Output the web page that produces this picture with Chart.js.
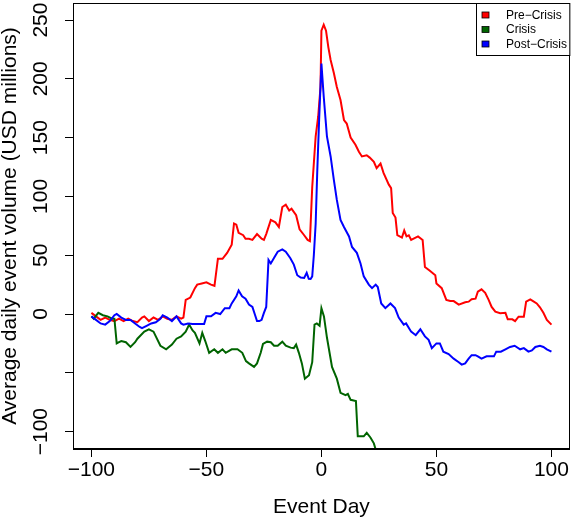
<!DOCTYPE html>
<html lang="en">
<head>
    <meta charset="UTF-8">
    <title>Average daily event volume</title>
    <script src="https://cdn.jsdelivr.net/npm/chart.js"></script>
    <style>
        body { margin: 0; background: #fff; }
    </style>
</head>
<body>
<canvas id="eventChart" width="572" height="519"></canvas>
<script>
    // series (event day, USD millions)
    const preDays = [-100,-98,-96,-94,-92,-90,-88,-86,-84,-82,-80,-78,-77,-75,-73,-71,-69,-67,-65,-63,-61,-60,-59,-57,-55,-54,-52,-50,-48,-46.5,-45,-43,-41,-39,-38,-37,-36,-34,-33,-31.5,-30,-28,-26,-25,-24,-22,-20,-18.5,-17,-15.5,-14,-13,-11,-9.5,-7.5,-6,-5,-4,-2.5,-1.4,-0.4,0,1,2,3,4,5.4,6.7,8.3,9.8,11,12.7,14.8,16.3,17.6,19.7,21,22.8,24,25.7,27,29.3,30.3,31,32.2,33,35,36,37,38,39,42,44,45,47,49.5,50,52.3,54.3,56,57.5,59.7,62.5,64,65.3,67,68,69.6,71.2,72.7,74,75.6,77.7,80,81,83,84.2,85.7,88,89,90.8,92,93.6,95,96.5,98,100];
    const preVals = [1,-2,-5,-3,-5,-6,-4,-6,-4,-6,-7,-3,-2,-6,-3,-5,-2,-4,-5,-2,-4,-3,12,14,22,25,26,27,25,24,47,47,52,59,77,76,69,67,64,64,63,68,64,63,68,80,78,74,91,93,88,89.5,84,72,67,63,62,108,151,168,193,241,246,241,227,216,205,193,182,165,162,150,144,138,134,135,133,129.5,124,128,120,110,107,86,82,67,65,71,66,67,63,66,63,40,37,33,26,22,12,11,11,8,10,10.5,12.5,13,19,21,18,12,6,2,0.6,1,-4.5,-4.5,-6,-2.3,-2.3,10.5,12.5,11,9,5.7,1,-5,-9];

    const crisisDays = [-100,-99,-97,-95,-93,-91,-90,-89,-88,-87,-85,-83,-81,-80,-77,-75,-73,-70,-67.5,-65,-63,-61,-59,-57.5,-56,-55,-53,-51.8,-50.5,-48.8,-46.6,-45,-43,-41.6,-39,-36.5,-34.4,-32.8,-31.5,-29.3,-28,-26.4,-25.4,-23.6,-22,-20.6,-19,-17,-15.5,-13.4,-12,-11,-9.8,-8.5,-7.2,-5.4,-4,-3,-2,-0.8,0,1.1,2.4,4.6,6.7,8.3,10.5,11.5,12.7,15,15.8,18.4,19.7,21.3,22.8,24];
    const crisisVals = [-2,-4,1,-1,-2,-4,-4,-25,-24,-23,-24,-28,-24,-21,-15,-13,-15,-27,-30,-26,-21,-19,-15,-9,-14,-16,-25,-16,-23,-33,-30,-33,-30,-33,-30,-30,-33,-40,-42,-45,-42,-33,-25.5,-23.5,-24,-27,-27,-23.5,-27,-28.6,-29,-26,-33,-42,-55,-52,-41,-9,-8,-10,5,-2,-20,-45,-55,-67,-69,-68,-73,-74,-104,-104,-101,-105,-110,-118];

    const postDays = [-100,-98,-96,-94,-92,-90,-89,-87,-85,-83,-81,-79,-78,-76,-74,-72,-70,-69,-67,-65,-63,-61,-60,-58,-56,-54,-51,-50,-48,-46,-44,-42,-40,-39,-37,-36,-34.5,-33,-31.5,-30,-29,-28,-27,-26,-25,-24,-23,-22,-20.5,-19,-17,-15.5,-13.5,-12,-10.5,-9,-7.5,-6.4,-5.5,-4.7,-4,-3.3,-2.5,-1.8,-1,0,1,2.4,4,5.4,6.7,8.3,9.8,12,13.3,15.4,17,18.4,20.6,22,23.6,24.5,26,27.8,30,32,33.6,35.8,36.8,39,41,43,45,46.6,48,50,51.5,53,55.3,57.5,59.7,61,62.5,64,65.3,67,68,69.6,71.8,73.5,75,76,78,80,82,84,86.4,88,90,91.5,93,95,96.5,98,100];
    const postVals = [-2,-5,-8,-9,-6,-1,0,-3,-5,-5,-8,-11,-12,-10,-8,-7,-4,-1,-3,-6,-2,-8,-9,-8,-8.5,-8.5,-8.5,-2,-2,1,0,5,5,9,15,20,15,13,8,6,0,-6,-6,-5,1,6,46,43,48,53,55,53,47.5,42,33,31,30.6,35,30,29.8,32,50,77,122,165,213,185,151,134,114,97,80,74,66,57,52,43,32,25,22,25,23,9,5,9,5,-3,-9,-8,-15,-18,-13,-19,-22,-29,-25,-25,-32,-34,-38,-41,-43,-42,-38,-35,-35,-36,-38,-36,-36,-36,-32,-32,-30,-28,-27,-30,-29,-32,-31,-28,-27,-28,-30,-32];

    const seriesNames = ['Pre\u2212Crisis', 'Crisis', 'Post\u2212Crisis'];
    const seriesColors = ['#ff0000', '#006400', '#0000ff'];
    const xTicks = [-100, -50, 0, 50, 100];
    const yTicks = [-100, -50, 0, 50, 100, 150, 200, 250];
    const yHidden = [-50]; // R dropped this label (overlap)

    const FONT = '"Liberation Sans", Arial, sans-serif';
    const toPoints = (days, vals) => days.map((d, i) => ({ x: d, y: vals[i] }));
    const fmt = v => String(v).replace('-', '\u2212');

    // box around plot, rotated y labels and the in-plot legend
    const rDecor = {
        id: 'rDecor',
        afterDraw(chart) {
            const ctx = chart.ctx;
            const a = chart.chartArea;
            ctx.save();
            ctx.strokeStyle = '#000';
            ctx.lineWidth = 1;
            ctx.strokeRect(Math.round(a.left) + 0.5, Math.round(a.top) + 0.5,
                Math.round(a.right - a.left) - 1, Math.round(a.bottom - a.top) - 1);

            // y tick labels, reading bottom to top like R
            const ys = chart.scales.y;
            ctx.fillStyle = '#000';
            ctx.font = '21px ' + FONT;
            ctx.textAlign = 'center';
            ctx.textBaseline = 'alphabetic';
            yTicks.forEach(v => {
                if (yHidden.includes(v)) return;
                ctx.save();
                ctx.translate(46.5, ys.getPixelForValue(v));
                ctx.rotate(-Math.PI / 2);
                ctx.fillText(fmt(v), 0, 0);
                ctx.restore();
            });

            // legend
            const lx = 476.5, ly = a.top + 0.5, lw = a.right - 476.5, lh = 52;
            ctx.fillStyle = '#fff';
            ctx.fillRect(lx, ly, lw, lh);
            ctx.strokeRect(lx, ly, lw, lh);
            ctx.font = '12px ' + FONT;
            ctx.textAlign = 'left';
            ctx.textBaseline = 'middle';
            chart.data.datasets.forEach((ds, i) => {
                const cy = 15 + i * 14.5;
                ctx.fillStyle = ds.borderColor;
                ctx.fillRect(482, cy - 3, 7, 6);
                ctx.strokeStyle = '#000';
                ctx.lineWidth = 0.8;
                ctx.strokeRect(482, cy - 3, 7, 6);
                ctx.fillStyle = '#000';
                ctx.fillText(ds.label, 506, cy + 0.5);
            });
            ctx.restore();
        }
    };

    const ctx = document.getElementById('eventChart').getContext('2d');
    const chart = new Chart(ctx, {
        type: 'line',
        data: {
            datasets: [
                { label: seriesNames[0], data: toPoints(preDays, preVals), order: 2 },
                { label: seriesNames[1], data: toPoints(crisisDays, crisisVals), order: 1 },
                { label: seriesNames[2], data: toPoints(postDays, postVals), order: 0 }
            ].map((d, i) => Object.assign(d, {
                borderColor: seriesColors[i],
                backgroundColor: seriesColors[i],
                borderWidth: 2,
                pointRadius: 0,
                tension: 0,
                fill: false
            }))
        },
        options: {
            responsive: false,
            animation: false,
            devicePixelRatio: 1,
            layout: { padding: { top: 3, right: 1, left: 0, bottom: 0 } },
            plugins: {
                legend: { display: false },
                tooltip: { enabled: false }
            },
            scales: {
                x: {
                    type: 'linear',
                    min: -108,
                    max: 108,
                    afterBuildTicks: s => { s.ticks = xTicks.map(v => ({ value: v })); },
                    afterFit: s => { s.height = 70; },
                    grid: { drawOnChartArea: false, drawTicks: true, tickLength: 8, color: '#000' },
                    border: { display: true, color: '#000' },
                    ticks: {
                        padding: 3,
                        maxRotation: 0,
                        color: '#000',
                        font: { family: FONT, size: 21, lineHeight: 1 },
                        callback: v => fmt(v)
                    },
                    title: {
                        display: true,
                        text: 'Event Day',
                        color: '#000',
                        padding: { top: 0, bottom: 1 },
                        font: { family: FONT, size: 21, lineHeight: 1 }
                    }
                },
                y: {
                    type: 'linear',
                    min: -114.8,
                    max: 264.5,
                    afterBuildTicks: s => { s.ticks = yTicks.map(v => ({ value: v })); },
                    afterFit: s => { s.width = 73; },
                    grid: { drawOnChartArea: false, drawTicks: true, tickLength: 8, color: '#000' },
                    border: { display: true, color: '#000' },
                    ticks: { display: false },
                    title: {
                        display: true,
                        text: 'Average daily event volume (USD millions)',
                        color: '#000',
                        padding: { top: 0, bottom: 0 },
                        font: { family: FONT, size: 21, lineHeight: 1 }
                    }
                }
            }
        },
        plugins: [rDecor]
    });
</script>
</body>
</html>
